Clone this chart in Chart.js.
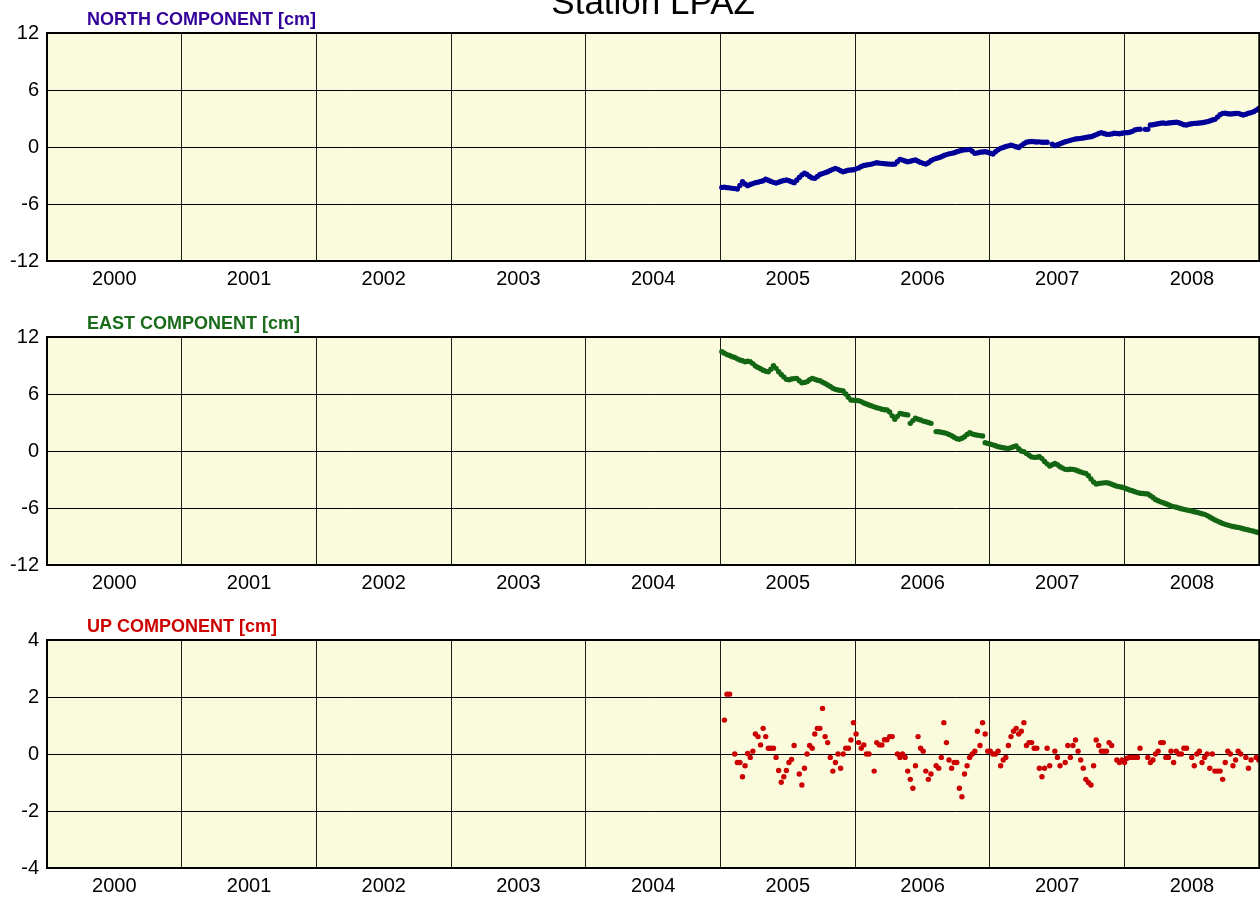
<!DOCTYPE html>
<html>
<head>
<meta charset="utf-8">
<title>Station LPAZ</title>
<script src="https://cdn.jsdelivr.net/npm/chart.js@4.4.1/dist/chart.umd.min.js"></script>
<style>
  html, body { margin: 0; padding: 0; background: #fff; }
  body { width: 1260px; height: 899px; position: relative; overflow: hidden; }
  .panel { position: absolute; left: 0; width: 1262px; }
  .panel canvas { display: block; }
</style>
</head>
<body>
<div class="panel" style="top:0px"><canvas id="north" width="1262" height="303"></canvas></div>
<div class="panel" style="top:304px"><canvas id="east" width="1262" height="303"></canvas></div>
<div class="panel" style="top:607px"><canvas id="up" width="1262" height="292"></canvas></div>

<script>
const FONT = '"Liberation Sans", Arial, Helvetica, sans-serif';

//======== DATA: weekly solutions, cm ===========//

const stationName = 'LPAZ';
const years = [2000, 2001, 2002, 2003, 2004, 2005, 2006, 2007, 2008];

// first weekly epoch (decimal year) and spacing of the solutions
const firstEpoch = 2005.01;
const weekStep = 7 / 365.25;

const northCm = [
  -4.25,-4.22,-4.28,-4.30,-4.35,-4.38,-4.42,-4.05,-3.65,-3.90,
  -4.07,-3.95,-3.85,-3.75,-3.70,-3.62,-3.55,-3.40,-3.50,-3.62,
  -3.72,-3.80,-3.70,-3.60,-3.52,-3.47,-3.55,-3.65,-3.75,-3.50,
  -3.20,-2.95,-2.77,-2.90,-3.10,-3.25,-3.30,-3.10,-2.90,-2.80,
  -2.70,-2.60,-2.48,-2.35,-2.25,-2.35,-2.50,-2.60,-2.52,-2.45,
  -2.42,-2.40,-2.30,-2.20,-2.05,-1.95,-1.90,-1.85,-1.80,-1.72,
  -1.65,-1.70,-1.72,-1.75,-1.78,-1.80,-1.82,-1.80,-1.55,-1.30,
  -1.38,-1.48,-1.55,-1.50,-1.42,-1.37,-1.50,-1.62,-1.72,-1.80,
  -1.65,-1.45,-1.30,-1.20,-1.12,-1.02,-0.90,-0.80,-0.72,-0.67,
  -0.60,-0.50,-0.42,-0.35,-0.30,-0.28,-0.25,-0.45,-0.67,-0.62,
  -0.55,-0.52,-0.50,-0.55,-0.65,-0.74,-0.50,-0.30,-0.14,-0.05,
  0.05,0.12,0.20,0.12,0.02,-0.05,0.15,0.35,0.50,0.56,
  0.58,0.55,0.52,0.54,0.50,0.50,0.50,null,0.30,0.14,
  0.25,0.35,0.45,0.56,0.62,0.70,0.78,0.85,0.88,0.91,
  0.95,1.00,1.05,1.08,1.18,1.30,1.42,1.51,1.42,1.35,
  1.33,1.38,1.44,1.42,1.40,1.45,1.50,1.51,1.55,1.65,
  1.80,1.86,1.88,null,1.86,1.86,2.32,2.35,2.40,2.45,
  2.50,2.52,2.49,2.52,2.56,2.58,2.60,2.55,2.45,2.35,
  2.32,2.40,2.45,2.49,2.50,2.52,2.55,2.60,2.67,2.75,
  2.85,2.91,3.15,3.40,3.54,3.55,3.50,3.47,3.50,3.52,
  3.54,3.45,3.37,3.45,3.55,3.62,3.72,3.88,4.07
];

const eastCm = [
  10.45,10.30,10.15,10.05,9.93,9.85,9.70,9.58,9.50,9.40,
  9.45,9.40,9.20,8.95,8.80,8.65,8.50,8.40,8.35,8.60,
  8.98,8.70,8.35,8.05,7.80,7.54,7.50,7.58,7.62,7.65,
  7.40,7.19,7.22,7.30,7.50,7.65,7.55,7.45,7.40,7.25,
  7.10,6.95,6.80,6.60,6.49,6.42,6.38,6.32,6.00,5.65,
  5.37,5.35,5.32,5.30,5.20,5.05,4.95,4.84,4.75,4.65,
  4.55,4.49,4.40,4.35,4.32,4.10,3.70,3.33,3.65,3.96,
  3.90,3.85,3.80,2.91,3.20,3.44,3.35,3.26,3.15,3.09,
  3.00,2.91,null,2.04,2.02,1.98,1.92,1.86,1.75,1.60,
  1.44,1.30,1.23,1.35,1.50,1.75,1.93,1.80,1.72,1.67,
  1.62,1.58,0.88,0.80,0.72,0.65,0.55,0.46,0.40,0.35,
  0.30,0.28,0.35,0.45,0.53,0.25,0.00,-0.07,-0.25,-0.45,
  -0.62,-0.67,-0.65,-0.60,-0.80,-1.10,-1.35,-1.58,-1.45,-1.30,
  -1.45,-1.65,-1.80,-1.93,-1.95,-1.92,-1.93,-2.00,-2.10,-2.20,
  -2.30,-2.35,-2.60,-2.95,-3.25,-3.47,-3.42,-3.38,-3.35,-3.33,
  -3.40,-3.50,-3.60,-3.70,-3.75,-3.82,-3.90,-4.00,-4.10,-4.18,
  -4.28,-4.38,-4.45,-4.48,-4.50,-4.52,-4.70,-4.90,-5.10,-5.23,
  -5.35,-5.45,-5.55,-5.65,-5.79,-5.85,-5.92,-6.00,-6.08,-6.14,
  -6.20,-6.26,-6.32,-6.40,-6.45,-6.52,-6.60,-6.67,-6.80,-6.95,
  -7.10,-7.26,-7.38,-7.50,-7.62,-7.72,-7.80,-7.88,-7.95,-8.00,
  -8.04,-8.10,-8.18,-8.25,-8.32,-8.38,-8.45,-8.52,-8.60
];

const upCm = [
  null,1.19,2.10,2.10,null,0.00,-0.30,-0.30,-0.80,-0.41,
  0.02,-0.12,0.10,0.70,0.61,0.32,0.90,0.61,0.20,0.20,
  0.20,-0.12,-0.58,-0.99,-0.80,-0.58,-0.30,-0.19,0.30,null,
  -0.70,-1.09,-0.50,0.00,0.30,0.20,0.70,0.90,0.90,1.60,
  0.61,0.40,-0.12,-0.60,-0.30,0.00,-0.50,0.00,0.20,0.20,
  0.49,1.10,0.70,0.40,0.20,0.32,0.00,0.00,null,-0.60,
  0.40,0.32,0.32,0.50,0.50,0.61,0.61,null,0.00,-0.12,
  0.00,-0.12,-0.60,-0.89,-1.20,-0.41,0.61,0.20,0.10,-0.60,
  -0.89,-0.70,null,-0.41,-0.50,-0.12,1.10,0.40,-0.21,-0.50,
  -0.30,-0.30,-1.20,-1.50,-0.70,-0.41,-0.12,0.00,0.10,0.80,
  0.30,1.10,0.70,0.10,0.10,0.00,0.00,0.10,-0.41,-0.21,
  -0.12,0.30,0.61,0.80,0.90,0.70,0.80,1.10,0.30,0.40,
  0.40,0.20,0.20,-0.50,-0.80,-0.50,0.20,-0.41,null,0.10,
  -0.12,-0.41,null,-0.30,0.30,-0.12,0.30,0.49,0.10,-0.21,
  -0.50,-0.89,-1.00,-1.09,-0.41,0.49,0.30,0.10,0.10,0.10,
  0.40,0.30,null,-0.21,-0.30,-0.21,-0.30,-0.15,-0.12,-0.12,
  -0.12,-0.12,0.20,null,null,-0.12,-0.30,-0.21,0.00,0.10,
  0.40,0.40,-0.12,-0.12,0.10,-0.30,0.10,0.00,0.00,0.20,
  0.20,null,-0.12,-0.41,0.00,0.10,-0.30,-0.12,0.00,-0.50,
  0.00,-0.60,-0.60,-0.60,-0.89,-0.30,0.10,0.00,-0.41,-0.21,
  0.10,0.00,null,-0.12,-0.50,-0.21,null,-0.12,-0.21
];

//======== PANELS ===========//

let panels = [
  { id: 'north', title: 'NORTH COMPONENT [cm]', titleColor: '#330099', dotColor: '#000099',
    values: northCm, yMin: -12, yMax: 12, yStep: 6, axisHeight: 42, showStation: true },
  { id: 'east', title: 'EAST COMPONENT [cm]', titleColor: '#1a6b1a', dotColor: '#136613',
    values: eastCm, yMin: -12, yMax: 12, yStep: 6, axisHeight: 42 },
  { id: 'up', title: 'UP COMPONENT [cm]', titleColor: '#cc0000', dotColor: '#cc0000',
    values: upCm, yMin: -4, yMax: 4, yStep: 2, axisHeight: 31 }
];

// year boundaries carry the grid, mid-year ticks carry the labels
let xTicks = [];
years.forEach(function (y) { xTicks.push(y, y + 0.5); });
xTicks.push(years[years.length - 1] + 1);

function toPoints(values) {
  let pts = [];
  values.forEach(function (v, i) {
    if (v !== null) pts.push({ x: firstEpoch + i * weekStep, y: v });
  });
  return pts;
}

// plot background, frame and the text above each panel
const panelFrame = {
  id: 'panelFrame',
  beforeDraw(chart) {
    const a = chart.chartArea;
    const ctx = chart.ctx;
    ctx.save();
    ctx.fillStyle = '#fafadc';
    ctx.fillRect(a.left, a.top, a.right - a.left, a.bottom - a.top);
    ctx.restore();
  },
  afterDraw(chart, args, opts) {
    const a = chart.chartArea;
    const ctx = chart.ctx;
    ctx.save();
    ctx.strokeStyle = '#000';
    ctx.lineWidth = 2;
    ctx.strokeRect(a.left, a.top, a.right - a.left, a.bottom - a.top);

    ctx.textAlign = 'left';
    ctx.textBaseline = 'alphabetic';
    ctx.fillStyle = opts.color;
    ctx.font = 'bold 18px ' + FONT;
    ctx.fillText(opts.text, 87, a.top - 8);

    if (opts.station) {
      ctx.textAlign = 'center';
      ctx.fillStyle = '#000';
      ctx.font = '35px ' + FONT;
      ctx.fillText('Station ' + stationName, (a.left + a.right) / 2, 14);
    }
    ctx.restore();
  }
};

panels.forEach(function (p) {
  let ctx = document.getElementById(p.id).getContext('2d');

  new Chart(ctx, {
    type: 'scatter',
    data: {
      datasets: [{
        label: p.title,
        data: toPoints(p.values),
        pointRadius: 2.7,
        pointHoverRadius: 2.7,
        pointBorderWidth: 0,
        pointBackgroundColor: p.dotColor,
        backgroundColor: p.dotColor,
        clip: 0
      }]
    },
    options: {
      responsive: false,
      animation: false,
      events: [],
      layout: { padding: { top: 33, right: 0, left: 0, bottom: 0 } },
      plugins: {
        legend: { display: false },
        tooltip: { enabled: false },
        panelFrame: { text: p.title, color: p.titleColor, station: !!p.showStation }
      },
      scales: {
        x: {
          type: 'linear',
          min: years[0],
          max: years[years.length - 1] + 1,
          afterBuildTicks: function (scale) {
            scale.ticks = xTicks.map(function (v) { return { value: v }; });
          },
          afterFit: function (scale) {
            scale.height = p.axisHeight;
            scale.paddingLeft = 0;
            scale.paddingRight = 0;
          },
          border: { display: false },
          grid: {
            drawTicks: false,
            lineWidth: 1,
            color: function (c) {
              return (c.tick && c.tick.value % 1 === 0) ? '#1e1e1e' : 'rgba(0,0,0,0)';
            }
          },
          ticks: {
            autoSkip: false,
            maxRotation: 0,
            minRotation: 0,
            padding: 6,
            color: '#000',
            font: { family: FONT, size: 20 },
            callback: function (v) { return (v % 1 === 0.5) ? String(v - 0.5) : ''; }
          }
        },
        y: {
          min: p.yMin,
          max: p.yMax,
          afterFit: function (scale) { scale.width = 47; },
          border: { display: false },
          grid: { drawTicks: false, color: '#000', lineWidth: 1 },
          ticks: {
            stepSize: p.yStep,
            padding: 8,
            color: '#000',
            font: { family: FONT, size: 20 }
          }
        }
      }
    },
    plugins: [panelFrame]
  });
});
</script>
</body>
</html>
